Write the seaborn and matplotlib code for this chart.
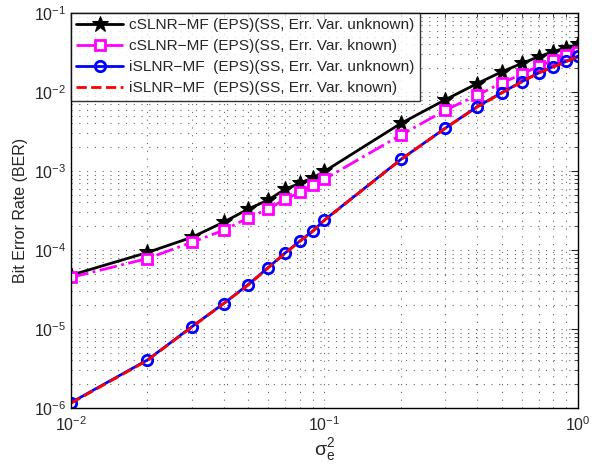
import numpy as np
import pandas as pd
import matplotlib
matplotlib.use('Agg')
import matplotlib.pyplot as plt
import seaborn as sns
from matplotlib.ticker import LogLocator, NullFormatter

sns.set_style('white')
plt.rcParams['font.family'] = ['Liberation Sans', 'DejaVu Sans']
plt.rcParams['mathtext.fontset'] = 'custom'
plt.rcParams['mathtext.rm'] = 'Liberation Sans'
plt.rcParams['mathtext.it'] = 'Liberation Sans:italic'
plt.rcParams['mathtext.default'] = 'regular'

sigma_e2 = [0.01, 0.02, 0.03, 0.04, 0.05, 0.06, 0.07, 0.08, 0.09, 0.1,
            0.2, 0.3, 0.4, 0.5, 0.6, 0.7, 0.8, 0.9, 1.0]

csl_unknown = [4.8e-5, 9.3e-5, 1.45e-4, 2.25e-4, 3.3e-4, 4.3e-4, 5.9e-4, 7.0e-4, 8.2e-4, 9.9e-4,
               4.0e-3, 8.0e-3, 1.28e-2, 1.8e-2, 2.3e-2, 2.8e-2, 3.25e-2, 3.65e-2, 4.0e-2]
csl_known = [4.5e-5, 7.8e-5, 1.25e-4, 1.78e-4, 2.55e-4, 3.3e-4, 4.4e-4, 5.35e-4, 6.6e-4, 7.9e-4,
             2.85e-3, 5.9e-3, 9.1e-3, 1.3e-2, 1.68e-2, 2.12e-2, 2.52e-2, 2.92e-2, 3.2e-2]
isl_unknown = [1.17e-6, 4.05e-6, 1.07e-5, 2.1e-5, 3.65e-5, 6.0e-5, 9.2e-5, 1.3e-4, 1.74e-4, 2.4e-4,
               1.4e-3, 3.5e-3, 6.5e-3, 9.8e-3, 1.35e-2, 1.75e-2, 2.1e-2, 2.45e-2, 2.85e-2]
isl_known = [1.15e-6, 4.0e-6, 1.06e-5, 2.1e-5, 3.6e-5, 5.95e-5, 9.1e-5, 1.29e-4, 1.73e-4, 2.38e-4,
             1.39e-3, 3.48e-3, 6.45e-3, 9.7e-3, 1.34e-2, 1.74e-2, 2.08e-2, 2.43e-2, 2.83e-2]

labels = ['cSLNR\u2212MF (EPS)(SS, Err. Var. unknown)',
          'cSLNR\u2212MF (EPS)(SS, Err. Var. known)',
          'iSLNR\u2212MF  (EPS)(SS, Err. Var. unknown)',
          'iSLNR\u2212MF  (EPS)(SS, Err. Var. known)']

fig = plt.figure(figsize=(6.02, 4.66), dpi=100)
ax = fig.add_axes([0.118, 0.1245, 0.842, 0.8475])

sns.lineplot(x=sigma_e2, y=csl_unknown, ax=ax, color='black', lw=2, marker='*',
             markersize=12, markeredgecolor='black', label=labels[0])
sns.lineplot(x=sigma_e2, y=csl_known, ax=ax, color='magenta', lw=2, linestyle='-.',
             marker='s', markersize=6.5, markerfacecolor='white', markeredgecolor='magenta',
             markeredgewidth=2, label=labels[1])
sns.lineplot(x=sigma_e2, y=isl_unknown, ax=ax, color='blue', lw=2, marker='o',
             markersize=7.5, markerfacecolor='none', markeredgecolor='blue',
             markeredgewidth=2, label=labels[2])
sns.lineplot(x=sigma_e2, y=isl_known, ax=ax, color='red', lw=2, linestyle='--',
             label=labels[3])

ax.set_xscale('log')
ax.set_yscale('log')
ax.set_xlim(1e-2, 1)
ax.set_ylim(1e-6, 1e-1)
ax.xaxis.set_major_locator(LogLocator(base=10, numticks=10))
ax.xaxis.set_minor_locator(LogLocator(base=10, subs=np.arange(2, 10), numticks=20))
ax.yaxis.set_major_locator(LogLocator(base=10, numticks=10))
ax.yaxis.set_minor_locator(LogLocator(base=10, subs=np.arange(2, 10), numticks=20))
ax.xaxis.set_minor_formatter(NullFormatter())
ax.yaxis.set_minor_formatter(NullFormatter())
ax.grid(True, which='both', color='#666666', linestyle=(0, (1, 6)), lw=0.8)
ax.tick_params(which='both', direction='in', top=True, right=True, labelsize=11.5)
ax.tick_params(axis='x', which='major', pad=5)
ax.tick_params(which='major', length=5)
ax.tick_params(which='minor', length=3)
for s in ax.spines.values():
    s.set_color('black')
    s.set_linewidth(1)

ax.set_xlabel(r'$\sigma_e^2$', fontsize=14, labelpad=2)
ax.set_ylabel('Bit Error Rate (BER)', fontsize=11.5)

leg = ax.legend(loc='upper left', fontsize=11.1, frameon=True, fancybox=False,
                edgecolor='black', borderaxespad=0, handlelength=3.0,
                labelspacing=0.45, borderpad=0.35, handletextpad=0.4)
leg.get_frame().set_linewidth(1)

fig.savefig('out.png', dpi=100)
